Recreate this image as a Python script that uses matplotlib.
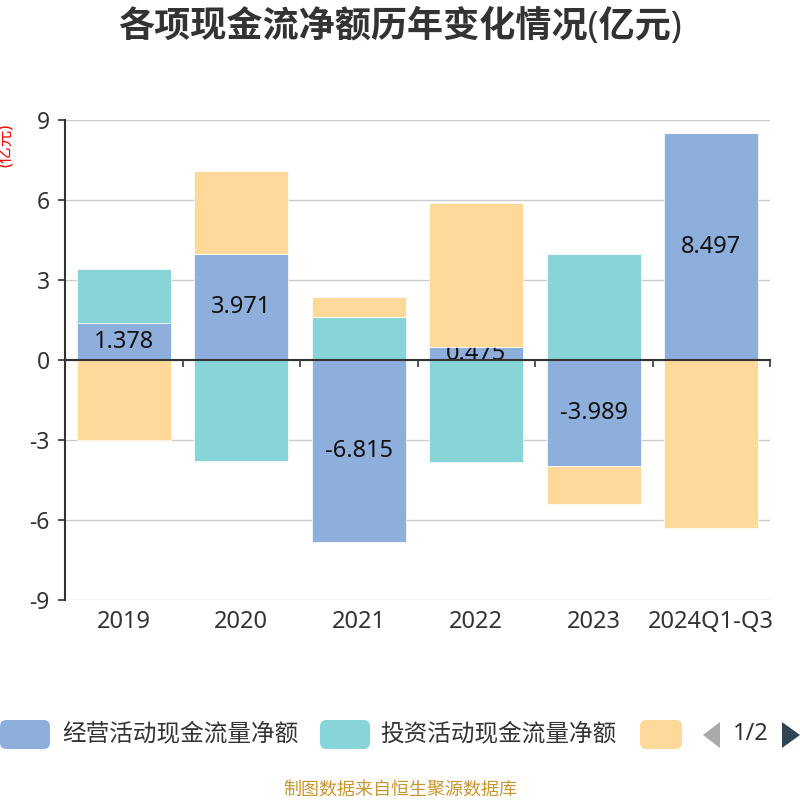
import numpy as np
import matplotlib
matplotlib.use('Agg')
import matplotlib.pyplot as plt
from matplotlib.patches import FancyBboxPatch, Polygon
import matplotlib.transforms as mtransforms

plt.rcParams['font.family'] = ['Noto Sans', 'Noto Sans CJK SC', 'DejaVu Sans']

years = ["2019", "2020", "2021", "2022", "2023", "2024Q1-Q3"]
series_names = ["经营活动现金流量净额", "投资活动现金流量净额", "筹资活动现金流量净额"]
operating = [1.378, 3.971, -6.815, 0.475, -3.989, 8.497]
investing = [2.03, -3.79, 1.61, -3.81, 3.99, 0.0]
financing = [-2.99, 3.12, 0.75, 5.42, -1.42, -6.31]
yticks = [-9, -6, -3, 0, 3, 6, 9]
colors = ["#8eaedb", "#87d5d8", "#fed99a"]

fig = plt.figure(figsize=(8, 8), dpi=100)
ax = fig.add_axes([65 / 800, 0.25, 705 / 800, 0.60])

x = np.arange(len(years))
pos_base = np.zeros(len(years))
neg_base = np.zeros(len(years))
for i, vals in enumerate([operating, investing, financing]):
    v = np.array(vals)
    bottoms = np.where(v >= 0, pos_base, neg_base)
    ax.bar(x, v, bottom=bottoms, width=0.8, color=colors[i],
           edgecolor="white", linewidth=0.5, zorder=2 if i else 1)
    if i == 0:
        # labels sit under the other series, like the original
        for xi, b, val in zip(x, bottoms, v):
            ax.text(xi, b + val / 2, f"{val:.3f}", ha="center", va="center",
                    fontsize=17, color="#111111", zorder=1.5)
    pos_base = pos_base + np.where(v >= 0, v, 0)
    neg_base = neg_base + np.where(v < 0, v, 0)

ax.set_xlim(-0.5, len(years) - 0.5)
ax.set_ylim(-9, 9)
ax.set_yticks(yticks)
ax.set_yticklabels([str(t) for t in yticks], fontsize=16.5, color="#333333")
ax.tick_params(axis="y", length=5, width=1.2, color="#333333", pad=6)
ax.grid(axis="y", color="#cccccc", linewidth=1, zorder=0)
ax.set_axisbelow(True)

ax.spines["top"].set_visible(False)
ax.spines["right"].set_visible(False)
ax.spines["left"].set_color("#333333")
ax.spines["left"].set_linewidth(1.5)
ax.spines["bottom"].set_position(("data", 0))
ax.spines["bottom"].set_color("#333333")
ax.spines["bottom"].set_linewidth(1.5)
ax.set_xticks(np.arange(len(years) + 1) - 0.5)
ax.set_xticklabels([])
ax.tick_params(axis="x", length=5, width=1.2, color="#333333", direction="out")

trans = mtransforms.blended_transform_factory(ax.transData, ax.transAxes)
for xi, lab in zip(x, years):
    ax.text(xi, -0.045, lab, transform=trans, ha="center", va="center",
            fontsize=17, color="#333333")

fig.text(0.5, 1 - 27 / 800, "各项现金流净额历年变化情况(亿元)", ha="center", va="center",
         fontsize=26, fontweight="bold", color="#333333")
fig.text(7 / 800, 1 - 145 / 800, "(亿元)", rotation=90, ha="center", va="center",
         fontsize=12, color="red")

# legend (paged, as in the original)
def box(x0, color, w=50):
    p = FancyBboxPatch((x0 / 800, 1 - 749 / 800), w / 800, 29 / 800,
                       boxstyle="round,pad=0,rounding_size=0.008",
                       transform=fig.transFigure, facecolor=color, edgecolor="none")
    fig.patches.append(p)

box(0, colors[0])
fig.text(62 / 800, 1 - 734 / 800, series_names[0], ha="left", va="center",
         fontsize=17, color="#333333")
box(320, colors[1])
fig.text(380 / 800, 1 - 734 / 800, series_names[1], ha="left", va="center",
         fontsize=17, color="#333333")
box(640, colors[2], w=42)

fig.patches.append(Polygon([(720 / 800, 1 - 722 / 800), (720 / 800, 1 - 748 / 800),
                            (703 / 800, 1 - 735 / 800)], closed=True,
                           transform=fig.transFigure, facecolor="#aaaaaa", edgecolor="none"))
fig.text(751 / 800, 1 - 734 / 800, "1/2", ha="center", va="center", fontsize=17, color="#333333")
fig.patches.append(Polygon([(782 / 800, 1 - 722 / 800), (782 / 800, 1 - 748 / 800),
                            (800 / 800, 1 - 735 / 800)], closed=True,
                           transform=fig.transFigure, facecolor="#2f4554", edgecolor="none"))

fig.text(0.5, 1 - 790 / 800, "制图数据来自恒生聚源数据库", ha="center", va="center",
         fontsize=13, color="#c8962e")

fig.savefig("out.png", dpi=100)
